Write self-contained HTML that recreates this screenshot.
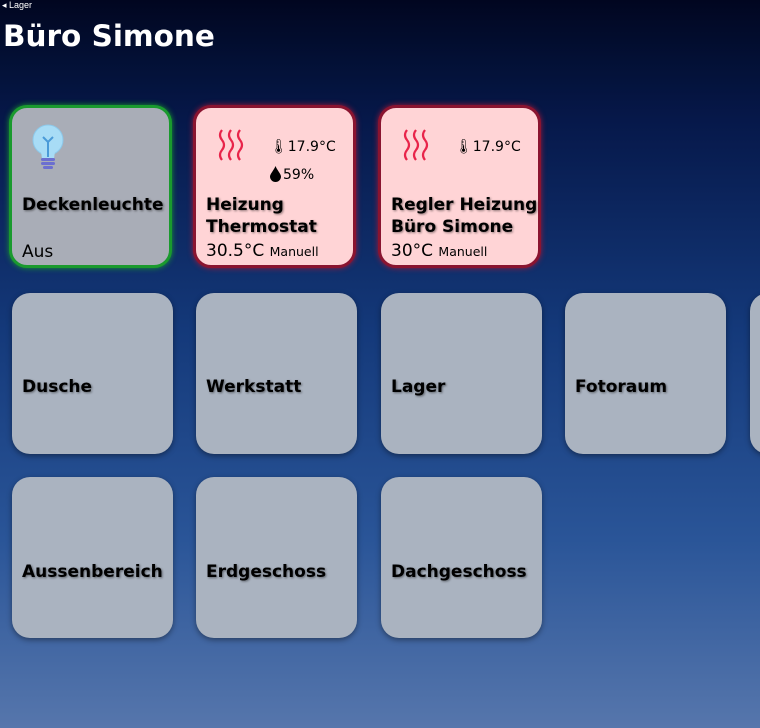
<!DOCTYPE html>
<html><head><meta charset="utf-8"><style>
body{margin:0;width:760px;height:728px;overflow:hidden;font-family:"DejaVu Sans","Liberation Sans",sans-serif;
background:linear-gradient(180deg,#010620 0px,#031035 60px,#06184a 120px,#14397a 330px,#2a5598 540px,#5676ac 728px);position:relative}
.back{position:absolute;left:2px;top:0;font-size:9px;color:#fff;font-family:"Liberation Sans",sans-serif}
h1{position:absolute;left:3px;top:19px;margin:0;font-size:29.5px;color:#fff;font-weight:bold}
.t{position:absolute;width:161px;height:161px;border-radius:18px;background:#aab3c0;box-shadow:0 2px 6px rgba(0,0,0,0.4)}
.t .l{position:absolute;left:10px;font-weight:bold;font-size:17px;color:#000;text-shadow:1px 1px 2px rgba(0,0,0,0.45);line-height:22px;white-space:nowrap}
.g{background:#a9adb7;border:3px solid #1a9a2e;box-shadow:0 0 6px #1a9a2e;width:157px;height:157px}
.r{background:#ffd4d6;border:3px solid #8a1430;box-shadow:0 0 6px #a01838;width:157px;height:157px}
.s{position:absolute;font-size:15px;color:#000;white-space:nowrap}
</style></head><body>
<div class="back">◂ Lager</div>
<h1>Büro Simone</h1>

<div class="t g" style="left:9px;top:105px">
<svg style="position:absolute;left:16px;top:15px" width="40" height="50" viewBox="0 0 40 50">
<circle cx="20" cy="17" r="15" fill="#a8dcf6" stroke="#8cc8ea"/>
<path d="M13 28 L27 28 L26 36 L14 36Z" fill="#a8dcf6"/>
<path d="M20 34 V18 M15 14 L20 19 L25 14" stroke="#4a9ad8" stroke-width="2" fill="none"/>
<rect x="13" y="35" width="14" height="3" rx="1.5" fill="#6b6fd0"/>
<rect x="13" y="39" width="14" height="3" rx="1.5" fill="#6b6fd0"/>
<rect x="15" y="43" width="10" height="3" rx="1.5" fill="#6b6fd0"/></svg>
<div class="l" style="top:86px">Deckenleuchte</div>
<div class="s" style="left:10px;top:134px;font-size:17px">Aus</div>
</div>

<div class="t r" style="left:193px;top:105px">
<svg style="position:absolute;left:20px;top:20px" width="30" height="36" viewBox="0 0 30 36"><g stroke="#e8244a" stroke-width="2.2" fill="none"><path d="M6 2 q-4 5 0 10 q4 5 0 10 q-4 5 0 10"/><path d="M15 2 q-4 5 0 10 q4 5 0 10 q-4 5 0 10"/><path d="M24 2 q-4 5 0 10 q4 5 0 10 q-4 5 0 10"/></g></svg>
<div class="s" style="left:74px;top:31px;font-size:14px">🌡︎17.9°C</div>
<svg style="position:absolute;left:74px;top:58px" width="11" height="16" viewBox="0 0 11 16"><path d="M5.5 0 C4 4 0 8 0 10.5 A5.5 5.5 0 0 0 11 10.5 C11 8 7 4 5.5 0Z" fill="#000"/></svg>
<div class="s" style="left:87px;top:59px;font-size:14px">59%</div>
<div class="l" style="top:86px">Heizung<br>Thermostat</div>
<div class="s" style="left:10px;top:133px;font-size:17px">30.5°C <span style="font-size:12.5px">Manuell</span></div>
</div>

<div class="t r" style="left:378px;top:105px">
<svg style="position:absolute;left:20px;top:20px" width="30" height="36" viewBox="0 0 30 36"><g stroke="#e8244a" stroke-width="2.2" fill="none"><path d="M6 2 q-4 5 0 10 q4 5 0 10 q-4 5 0 10"/><path d="M15 2 q-4 5 0 10 q4 5 0 10 q-4 5 0 10"/><path d="M24 2 q-4 5 0 10 q4 5 0 10 q-4 5 0 10"/></g></svg>
<div class="s" style="left:74px;top:31px;font-size:14px">🌡︎17.9°C</div>
<div class="l" style="top:86px">Regler Heizung<br>Büro Simone</div>
<div class="s" style="left:10px;top:133px;font-size:17px">30°C <span style="font-size:12.5px">Manuell</span></div>
</div>

<div class="t" style="left:12px;top:293px"><div class="l" style="top:83px">Dusche</div></div>
<div class="t" style="left:196px;top:293px"><div class="l" style="top:83px">Werkstatt</div></div>
<div class="t" style="left:381px;top:293px"><div class="l" style="top:83px">Lager</div></div>
<div class="t" style="left:565px;top:293px"><div class="l" style="top:83px">Fotoraum</div></div>
<div class="t" style="left:750px;top:293px"></div>
<div class="t" style="left:12px;top:477px"><div class="l" style="top:84px">Aussenbereich</div></div>
<div class="t" style="left:196px;top:477px"><div class="l" style="top:84px">Erdgeschoss</div></div>
<div class="t" style="left:381px;top:477px"><div class="l" style="top:84px">Dachgeschoss</div></div>
</body></html>
